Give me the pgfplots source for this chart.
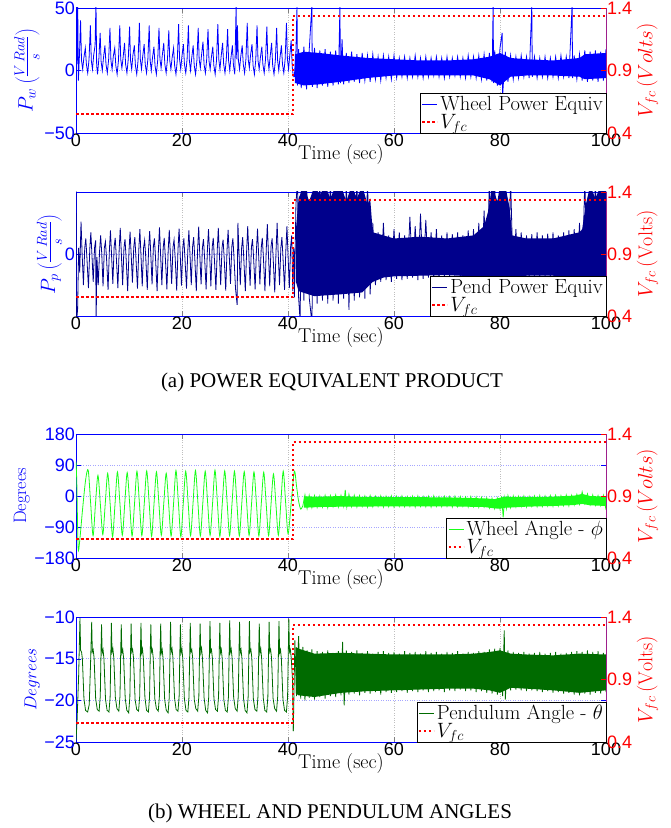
\documentclass[border=0pt]{standalone}
\usepackage{fontspec}
\usepackage{pgfplots}
\pgfplotsset{compat=1.18}
\newfontfamily\helv{Liberation Sans}
\newfontfamily\capfont{Liberation Serif}
\newcommand\tickfont{\helv\fontsize{18}{18}\selectfont}
\newcommand\labfont{\fontsize{20}{22}\selectfont}
\definecolor{dblue}{rgb}{0,0,0.55}
\definecolor{vgreen}{rgb}{0.1,1,0.1}
\definecolor{dgreen}{rgb}{0,0.42,0}
\definecolor{axpurple}{rgb}{0.62,0.12,0.55}

\pgfplotsset{
  base/.style={scale only axis, width=530pt, xmin=0, xmax=100, anchor=south west,
    tick label style={font=\tickfont, inner sep=1pt},
    label style={font=\labfont},
    xtick={0,20,40,60,80,100}, xticklabels={0,20,40,60,80,100},
    tick align=inside, major tick length=5pt},
  leftax/.style={base, xmajorgrids, ymajorgrids,
    x grid style={gray!50, dotted}, y grid style={blue!35, dotted},
    x axis line style={black}, y axis line style={blue},
    ytick style={blue}, yticklabel style={blue}, ylabel style={blue},
    xlabel={Time (sec)}, xlabel style={inner sep=0pt, yshift=4pt}},
  rightax/.style={base, axis y line*=right, axis x line=none,
    ymin=0.4, ymax=1.4, ytick={0.4,0.9,1.4}, yticklabels={0.4,0.9,1.4},
    y axis line style={axpurple}, ytick style={red}, yticklabel style={red},
    ylabel style={red, font=\fontsize{20}{22}\selectfont},
    legend style={at={(1,0)}, anchor=south east, draw=black, fill=white,
      font=\fontsize{20.5}{20}\selectfont, inner sep=1pt, row sep=-2pt, cells={anchor=west}},
    legend image code/.code={\draw[#1] (0pt,0pt) -- (15pt,0pt);}},
  sig/.style={line width=0.8pt},
  vfc/.style={red, line width=2.2pt, dash pattern=on 2.5pt off 2.5pt},
}

\begin{document}
\begin{tikzpicture}
\useasboundingbox (0,0) rectangle (671pt,828pt);

% ---------------- panel 1 : wheel power
\begin{axis}[leftax, at={(76pt,695pt)}, height=125pt, ymin=-50, ymax=50,
  ytick={-50,0,50}, yticklabels={−50,0,50},
  ylabel={$P_w\left(\frac{V\,Rad}{s}\right)$}]
\addplot[blue, sig] coordinates {
(0,-55)(0.1,55)(0.2,5)(0.32,55)(0.45,-8)(0.65,12)
(0.86,40)(1.04,8)(1.26,1)(1.48,10)(1.76,18)(1.96,5)(2.21,-2)(2.46,9)
(2.71,36)(2.89,8)(3.11,1)(3.33,12)(3.6,20)(3.77,55)(3.9,4)(4.06,-3)(4.31,9)
(4.56,30)(4.74,7)(4.96,0)(5.18,10)(5.46,20)(5.66,5)(5.91,-2)(6.16,9)
(6.41,34)(6.59,8)(6.81,1)(7.03,11)(7.31,18)(7.51,4)(7.76,-3)(8.01,8)
(8.26,36)(8.44,9)(8.66,2)(8.88,10)(9.16,22)(9.36,5)(9.61,-2)(9.86,9)
(10.11,35)(10.29,8)(10.51,1)(10.73,12)(11.01,20)(11.21,4)(11.46,-3)(11.71,8)
(11.96,38)(12.14,9)(12.36,1)(12.58,11)(12.86,21)(13.06,5)(13.31,-2)(13.56,9)
(13.81,36)(13.99,8)(14.21,0)(14.43,10)(14.71,19)(14.91,4)(15.16,-3)(15.41,8)
(15.66,34)(15.84,9)(16.06,2)(16.28,12)(16.56,22)(16.76,5)(17.01,-2)(17.26,9)
(17.51,32)(17.69,8)(17.91,1)(18.13,10)(18.41,18)(18.61,4)(18.86,-3)(19.11,8)
(19.36,37)(19.54,9)(19.76,1)(19.98,11)(20.26,21)(20.46,5)(20.71,-2)(20.96,9)
(21.21,36)(21.39,8)(21.61,0)(21.83,10)(22.11,20)(22.31,4)(22.56,-3)(22.81,8)
(23.06,34)(23.24,9)(23.46,2)(23.68,12)(23.96,23)(24.16,5)(24.41,-2)(24.66,9)
(24.91,33)(25.09,8)(25.31,1)(25.53,10)(25.81,19)(26.01,4)(26.26,-3)(26.51,8)
(26.76,37)(26.94,9)(27.16,1)(27.38,11)(27.66,22)(27.86,5)(28.11,-2)(28.36,9)
(28.61,33)(28.79,8)(29.01,0)(29.23,10)(29.51,20)(29.71,4)(29.96,-3)(30.21,52)(30.32,9)
(30.46,36)(30.64,8)(30.86,1)(31.08,11)(31.36,20)(31.56,5)(31.81,-2)(32.06,9)
(32.31,38)(32.49,9)(32.71,2)(32.93,12)(33.21,21)(33.41,4)(33.66,-3)(33.91,8)
(34.16,36)(34.34,8)(34.56,1)(34.78,10)(35.06,19)(35.26,5)(35.51,-2)(35.76,9)
(36.01,35)(36.19,9)(36.41,1)(36.63,11)(36.91,22)(37.11,4)(37.36,-3)(37.61,8)
(37.86,34)(38.04,8)(38.26,0)(38.48,10)(38.76,20)(38.96,5)(39.21,-2)(39.46,9)
(39.71,38)(39.89,9)(40.11,1)(40.33,12)(40.6,24)(40.8,3)(41.0,-5)
};
\addplot[blue, fill=blue, draw=none, forget plot] coordinates {
(41.3,13)(43,15)(46,14)(50,12)(55,10)(60,9)(65,8)(70,8)(75,9)(78,11)(80,14)(82,10)(85,9)(90,8)(95,10)(96,13)(100,14)
(100,-6)(96,-7)(95,-5)(90,-4)(85,-4)(82,-5)(80,-12)(78,-7)(75,-4)(70,-4)(65,-4)(60,-4)(55,-6)(50,-9)(46,-11)(43,-12)(41.3,-10)
} -- cycle;
\addplot[blue, sig, forget plot] coordinates {
(41.0,-5)(41.2,-5)(41.5,16)(41.7,52)(41.8,-12)(42.0,17)(42.5,-14)(43.0,19)(43.5,-15)(44.0,16)(44.5,52)(44.6,-13)
(45.0,18)(45.5,-14)(46.0,16)(46.5,-12)(47.0,17)(47.5,-13)(48.0,15)(48.5,-12)(49.0,16)(49.5,-11)(49.8,52)(49.9,-10)
(50.2,25)(50.5,-11)(51.0,14)(51.5,-10)(52.0,15)(52.5,-9)(53.0,13)(53.5,-10)(54.0,14)(54.5,-8)(55.0,12)(55.5,-9)
(56.0,13)(56.5,-7)(57.0,11)(57.5,-8)(58.0,12)(58.5,-6)(59.0,11)(59.5,-7)(60.0,12)(60.5,-6)(61.0,10)(61.5,-5)
(62.0,11)(62.5,-6)(63.0,10)(63.5,-5)(64.0,12)(64.5,-5)(65.0,10)(65.5,-6)(66.0,11)(66.5,-5)(67.0,10)(67.5,-4)
(68.0,11)(68.5,-5)(69.0,10)(69.5,-6)(70.0,11)(70.5,-5)(71.0,10)(71.5,-4)(72.0,11)(72.5,-5)(73.0,10)(73.5,-6)
(74.0,12)(74.5,-5)(75.0,11)(75.5,-6)(76.0,12)(76.5,-7)(77.0,13)(77.5,-8)(78.0,14)(78.5,-9)(78.7,52)(78.8,-10)
(79.0,16)(79.5,-12)(80.0,18)(80.4,30)(80.5,-20)(81.0,15)(81.5,-9)(82.0,12)(82.5,-7)(83.0,11)(83.5,-6)(84.0,12)
(84.5,-5)(85.0,11)(85.5,-6)(86.0,52)(86.1,-5)(86.5,11)(87.0,-6)(87.5,10)(88.0,-5)(88.5,11)(89.0,-6)(89.5,10)
(90.0,-5)(90.5,11)(91.0,-6)(91.5,12)(92.0,-5)(92.5,11)(93.0,-6)(93.6,52)(93.7,-6)(94.0,12)(94.5,-7)(95.0,13)
(95.5,-8)(96.0,16)(96.5,-9)(97.0,15)(97.5,-8)(98.0,16)(98.5,-9)(99.0,15)(99.5,-8)(100.0,17)
};
\end{axis}
\begin{axis}[rightax, at={(76pt,695pt)}, height=125pt, ylabel={$V_{fc}\,(Volts)$}]
\addlegendimage{blue, line width=0.8pt}
\addlegendentry{Wheel Power Equiv}
\addplot[vfc] coordinates {(0,0.55)(40.9,0.55)(40.9,1.335)(100,1.335)};
\addlegendentry{$V_{fc}$}
\end{axis}

% ---------------- panel 2 : pendulum power
\begin{axis}[leftax, at={(76pt,512pt)}, height=124pt, ymin=-1, ymax=1,
  ytick={0}, yticklabels={0},
  ylabel={$P_p\left(\frac{V\,Rad}{s}\right)$},
  ylabel style={at={(axis description cs:-0.05,0.5)}, anchor=center}]
\addplot[dblue, sig] coordinates {
(0,1.2)(0.08,-1.1)(0.3,-0.9)(0.5,0.1)(0.7,-0.3)
(0.95,0.52)(1.15,0.02)(1.4,-0.5)(1.65,0.1)(1.85,0.25)(2.05,-0.05)(2.35,-0.55)(2.6,0.08)
(2.8,0.35)(3.0,0.0)(3.25,-0.45)(3.5,0.1)(3.7,0.22)(3.8,-1.1)(3.95,-0.05)(4.2,-0.5)(4.45,0.05)
(4.65,0.3)(4.85,0.02)(5.1,-0.52)(5.35,0.1)(5.55,0.2)(5.75,-0.05)(6.05,-0.58)(6.3,0.06)
(6.5,0.38)(6.7,0.0)(6.95,-0.48)(7.2,0.12)(7.4,0.26)(7.6,-0.04)(7.9,-0.55)(8.15,0.08)
(8.35,0.42)(8.55,0.02)(8.8,-0.5)(9.05,0.1)(9.25,0.24)(9.45,-0.06)(9.75,-0.6)(10.0,0.05)
(10.2,0.36)(10.4,0.01)(10.65,-0.46)(10.9,0.11)(11.1,0.27)(11.3,-0.05)(11.6,-0.56)(11.85,0.07)
(12.05,0.4)(12.25,0.0)(12.5,-0.52)(12.75,0.1)(12.95,0.22)(13.15,-0.04)(13.45,-0.58)(13.7,0.08)
(13.9,0.37)(14.1,0.02)(14.35,-0.49)(14.6,0.12)(14.8,0.25)(15.0,-0.06)(15.3,-0.6)(15.55,0.06)
(15.75,0.43)(15.95,0.01)(16.2,-0.5)(16.45,0.1)(16.65,0.26)(16.85,-0.05)(17.15,-0.57)(17.4,0.07)
(17.6,0.39)(17.8,0.0)(18.05,-0.48)(18.3,0.11)(18.5,0.23)(18.7,-0.04)(19.0,-0.59)(19.25,0.08)
(19.45,0.41)(19.65,0.02)(19.9,-0.51)(20.15,0.1)(20.35,0.25)(20.55,-0.06)(20.85,-0.56)(21.1,0.06)
(21.3,0.38)(21.5,0.01)(21.75,-0.5)(22.0,0.12)(22.2,0.27)(22.4,-0.05)(22.7,-0.6)(22.95,0.07)
(23.15,0.44)(23.35,0.0)(23.6,-0.49)(23.85,0.1)(24.05,0.24)(24.25,-0.04)(24.55,-0.57)(24.8,0.08)
(25.0,0.4)(25.2,0.02)(25.45,-0.52)(25.7,0.11)(25.9,0.26)(26.1,-0.06)(26.4,-0.58)(26.65,0.06)
(26.85,0.42)(27.05,0.01)(27.3,-0.5)(27.55,0.1)(27.75,0.23)(27.95,-0.05)(28.25,-0.59)(28.5,0.07)
(28.7,0.39)(28.9,0.0)(29.15,-0.48)(29.4,0.12)(29.6,0.25)(29.8,-0.04)(30.1,-0.56)(30.4,-0.82)(30.5,0.08)
(30.55,0.5)(30.75,0.02)(31.0,-0.5)(31.25,0.1)(31.45,0.27)(31.65,-0.06)(31.95,-0.6)(32.2,0.06)
(32.4,0.45)(32.6,0.01)(32.85,-0.51)(33.1,0.11)(33.3,0.24)(33.5,-0.05)(33.8,-0.57)(34.05,0.07)
(34.25,0.41)(34.45,0.0)(34.7,-0.49)(34.95,0.1)(35.15,0.26)(35.35,-0.04)(35.65,-0.6)(35.9,0.08)
(36.1,0.48)(36.3,0.02)(36.55,-0.52)(36.8,0.12)(37.0,0.25)(37.2,-0.06)(37.5,-0.62)(37.75,0.06)
(37.95,0.5)(38.15,0.01)(38.4,-0.5)(38.65,0.1)(38.85,0.27)(39.05,-0.05)(39.35,-0.58)(39.6,0.07)
(39.8,0.45)(40.0,0.0)(40.25,-0.55)(40.5,0.12)(40.7,0.3)(40.9,-0.6)(41.1,0.1)
};
\addplot[dblue, fill=dblue, draw=none, forget plot] coordinates {
(41.5,0.4)(42,0.9)(43,1.1)(44,0.85)(45,1.1)(46,0.95)(47,1.1)(48,0.9)(49,1.1)(50,1.1)(51,0.85)(52,1.1)(53,0.9)(54,1.1)(55,0.8)(55.5,0.9)
(56,0.35)(60,0.25)(65,0.28)(70,0.25)(75,0.3)(77,0.45)(77.8,0.7)(78.5,1.1)(79.5,0.85)(80,1.1)(81,1.1)(81.8,0.75)(82.3,0.3)
(85,0.25)(90,0.25)(95,0.35)(95.5,0.4)(96.2,0.8)(97,1.1)(98,0.9)(99,1.1)(100,1.1)
(100,-0.55)(96,-0.5)(95,-0.42)(90,-0.35)(85,-0.35)(82,-0.42)(80,-0.5)(78,-0.48)(75,-0.36)(70,-0.34)(65,-0.35)(60,-0.36)(58,-0.38)(56,-0.45)(54,-0.62)(50,-0.65)(45,-0.68)(42,-0.6)(41.5,-0.45)
} -- cycle;
\addplot[dblue, sig, forget plot] coordinates {
(41.1,0.1)(41.2,-0.7)(41.5,0.8)(41.8,1.2)(42.0,-0.7)(42.3,-1.1)(42.5,1.2)(43,-0.75)(43.5,1.2)(44,-0.7)(44.5,-1.1)
(45,1.2)(45.5,-0.8)(46,1.2)(46.5,-0.75)(47,1.2)(47.5,-0.8)(48,1.2)(48.5,-0.75)(49,1.2)(49.5,-0.8)(50,1.2)(50.5,-0.72)
(51,1.2)(51.5,-0.9)(52,1.2)(52.5,-0.75)(53,1.2)(53.5,-0.7)(54,1.2)(54.5,-0.72)(55,1.2)(55.5,-0.65)(56,0.5)(56.5,-0.5)
(57,0.35)(57.5,-0.45)(58,0.5)(58.5,-0.42)(59,0.3)(59.5,-0.45)(60,0.4)(60.5,-0.4)(61,0.35)(61.5,-0.42)(62,0.3)(62.5,-0.4)
(63,0.6)(63.5,-0.38)(64,0.45)(64.5,-0.42)(65,0.65)(65.5,-0.4)(66,0.55)(66.5,-0.38)(67,0.35)(67.5,-0.4)(68,0.4)(68.5,-0.42)
(69,0.3)(69.5,-0.38)(70,0.35)(70.5,-0.4)(71,0.32)(71.5,-0.38)(72,0.35)(72.5,-0.42)(73,0.3)(73.5,-0.4)(74,0.38)(74.5,-0.4)
(75,0.4)(75.5,-0.45)(76,0.5)(76.5,-0.48)(77,0.7)(77.5,-0.5)(78,1.2)(78.5,-0.55)(79,1.2)(79.5,-0.6)(80,1.2)(80.5,-0.55)
(81,1.2)(81.5,-0.5)(82,1.2)(82.5,-0.45)(83,0.4)(83.5,-0.4)(84,0.35)(84.5,-0.38)(85,0.3)(85.5,-0.4)(86,0.32)(86.5,-0.38)
(87,0.35)(87.5,-0.4)(88,0.3)(88.5,-0.38)(89,0.33)(89.5,-0.4)(90,0.35)(90.5,-0.42)(91,0.3)(91.5,-0.4)(92,0.35)(92.5,-0.42)
(93,0.38)(93.5,-0.4)(94,0.4)(94.5,-0.45)(95,0.5)(95.5,-0.5)(96,1.2)(96.5,-0.6)(97,1.2)(97.5,-0.62)(98,1.2)(98.5,-0.6)
(99,1.2)(99.5,-0.65)(100,1.2)
};
\end{axis}
\begin{axis}[rightax, at={(76pt,512pt)}, height=124pt, ylabel={$V_{fc}\,(\mathrm{Volts})$}]
\addlegendimage{dblue, line width=0.8pt}
\addlegendentry{Pend Power Equiv}
\addplot[vfc] coordinates {(0,0.55)(40.9,0.55)(40.9,1.335)(100,1.335)};
\addlegendentry{$V_{fc}$}
\end{axis}

% ---------------- panel 3 : wheel angle
\begin{axis}[leftax, at={(76pt,270pt)}, height=124pt, ymin=-180, ymax=180,
  ytick={-180,-90,0,90,180}, yticklabels={−180,−90,0,90,180},
  ylabel={Degrees}, ylabel style={font=\fontsize{18}{20}\selectfont}]
\addplot[vgreen, sig, smooth] coordinates {
(0,100)(0.15,40)(0.4,-150)(0.7,-130)(1.2,-45)(1.8,45)
(2.30,75)(2.76,-20)(3.22,-115)(3.68,-22)(4.14,60)(4.60,-25)(5.06,-112)(5.52,-22)
(5.98,66)(6.44,-22)(6.90,-118)(7.36,-24)(7.82,70)(8.28,-20)(8.74,-114)(9.20,-22)
(9.66,68)(10.12,-21)(10.58,-116)(11.04,-23)(11.50,72)(11.96,-20)(12.42,-115)(12.88,-22)
(13.34,73)(13.80,-19)(14.26,-117)(14.72,-23)(15.18,70)(15.64,-21)(16.10,-114)(16.56,-22)
(17.02,66)(17.48,-23)(17.94,-116)(18.40,-24)(18.86,74)(19.32,-19)(19.78,-118)(20.24,-22)
(20.70,72)(21.16,-20)(21.62,-115)(22.08,-21)(22.54,74)(23.00,-19)(23.46,-116)(23.92,-22)
(24.38,72)(24.84,-20)(25.30,-114)(25.76,-23)(26.22,75)(26.68,-19)(27.14,-117)(27.60,-22)
(28.06,73)(28.52,-20)(28.98,-115)(29.44,-21)(29.90,72)(30.36,-21)(30.82,-116)(31.28,-22)
(31.74,71)(32.20,-20)(32.66,-114)(33.12,-23)(33.58,70)(34.04,-21)(34.50,-116)(34.96,-22)
(35.42,69)(35.88,-22)(36.34,-115)(36.80,-23)(37.26,64)(37.72,-24)(38.18,-114)(38.64,-22)
(39.10,72)(39.56,-21)(40.02,-110)(40.6,-20)(41.2,72)(41.6,30)(42.0,-15)(42.4,-38)(42.8,-28)
};
\addplot[vgreen, fill=vgreen, draw=none, forget plot] coordinates {
(43,-1)(46,-2)(50,0)(52,-2)(60,-3)(70,-4)(77,-7)(79,-9)(80,-5)(81,-2)(85,-3)(90,-2)(94,1)(95.5,6)(97,0)(100,-2)
(100,-29)(97,-27)(95.5,-23)(94,-26)(90,-29)(85,-31)(81,-34)(80,-37)(79,-36)(77,-32)(70,-30)(60,-30)(52,-31)(50,-31)(46,-32)(43,-34)
} -- cycle;
\addplot[vgreen, sig, forget plot] coordinates {
(42.8,-28)(43.2,3)(43.6,-36)(44.0,2)(44.5,-34)(45.0,1)(45.5,-33)(46.0,0)(46.5,-32)(47.0,2)(47.5,-34)(48.0,1)
(48.5,-31)(49.0,3)(49.5,-32)(50.0,2)(50.5,-30)(50.8,18)(51.1,-32)(51.5,5)(52.0,-31)(52.5,2)(53.0,-32)(53.5,1)
(54.0,-30)(54.5,0)(55.0,-32)(55.5,1)(56.0,-31)(56.5,-1)(57.0,-30)(57.5,0)(58.0,-32)(58.5,-1)(59.0,-31)(59.5,0)
(60.0,-32)(60.5,-1)(61.0,-30)(61.5,0)(62.0,-31)(62.5,-2)(63.0,-30)(63.5,-1)(64.0,-32)(64.5,0)(65.0,-30)(65.5,-2)
(66.0,-31)(66.5,-1)(67.0,-32)(67.5,0)(68.0,-30)(68.5,-2)(69.0,-31)(69.5,-1)(70.0,-30)(70.5,-2)(71.0,-32)(71.5,-1)
(72.0,-31)(72.5,-2)(73.0,-30)(73.5,-3)(74.0,-32)(74.5,-2)(75.0,-31)(75.5,-3)(76.0,-33)(76.5,-4)(77.0,-32)(77.5,-5)
(78.0,-35)(78.5,-7)(79.0,-37)(79.5,-6)(80.0,-38)(80.3,-1)(80.6,-62)(80.9,-5)(81.2,-36)(81.5,1)(82.0,-34)(82.5,0)
(83.0,-32)(83.5,-1)(84.0,-31)(84.5,0)(85.0,-32)(85.5,-1)(86.0,-30)(86.5,0)(87.0,-31)(87.5,1)(88.0,-30)(88.5,0)
(89.0,-29)(89.5,1)(90.0,-30)(90.5,2)(91.0,-29)(91.5,1)(92.0,-28)(92.5,3)(93.0,-29)(93.5,2)(94.0,-26)(94.5,5)
(95.0,-24)(95.5,12)(96.0,-22)(96.5,6)(97.0,-26)(97.5,3)(98.0,-27)(98.5,1)(99.0,-28)(99.5,2)(100.0,-40)
};
\end{axis}
\begin{axis}[rightax, at={(76pt,270pt)}, height=124pt, ylabel={$V_{fc}\,(Volts)$}]
\addlegendimage{vgreen, line width=0.8pt}
\addlegendentry{Wheel Angle - $\phi$}
\addplot[vfc] coordinates {(0,0.55)(40.9,0.55)(40.9,1.335)(100,1.335)};
\addlegendentry{$V_{fc}$}
\end{axis}

% ---------------- panel 4 : pendulum angle
\begin{axis}[leftax, at={(76pt,86pt)}, height=125pt, ymin=-25, ymax=-10,
  ytick={-25,-20,-15,-10}, yticklabels={−25,−20,−15,−10},
  ylabel={$Degrees$}, ylabel style={font=\fontsize{18}{20}\selectfont}]
\addplot[dgreen, sig] coordinates {
(0,-24.8)(0.2,-22.5)(0.5,-17)(0.75,-10.1)(0.87,-14.0)(1.05,-14.2)(1.2,-15)(1.5,-19.8)(1.8,-21.2)(2.2,-21.4)(2.5,-20.5)(2.75,-15.5)
(2.96,-10.6)(3.08,-14.2)(3.24,-13.9)(3.41,-14.9)(3.71,-19.8)(4.01,-21.1)(4.36,-21.3)(4.58,-19.5)(4.72,-14.0)
(4.82,-10.9)(4.94,-14.3)(5.10,-13.9)(5.27,-15.0)(5.57,-19.9)(5.87,-21.2)(6.22,-21.4)(6.44,-19.6)(6.58,-14.1)
(6.68,-10.7)(6.80,-14.2)(6.96,-13.8)(7.13,-14.9)(7.43,-19.7)(7.73,-21.0)(8.08,-21.3)(8.30,-19.5)(8.44,-14.0)
(8.54,-10.9)(8.66,-14.3)(8.82,-13.9)(8.99,-15.0)(9.29,-19.8)(9.59,-21.2)(9.94,-21.5)(10.16,-19.6)(10.30,-14.1)
(10.40,-10.8)(10.52,-14.2)(10.68,-13.9)(10.85,-14.9)(11.15,-19.9)(11.45,-21.1)(11.80,-21.3)(12.02,-19.5)(12.16,-14.0)
(12.26,-10.7)(12.38,-14.3)(12.54,-13.8)(12.71,-15.0)(13.01,-19.7)(13.31,-21.2)(13.66,-21.4)(13.88,-19.6)(14.02,-14.1)
(14.12,-10.9)(14.24,-14.2)(14.40,-13.9)(14.57,-14.9)(14.87,-19.8)(15.17,-21.0)(15.52,-21.3)(15.74,-19.5)(15.88,-14.0)
(15.98,-10.8)(16.10,-14.3)(16.26,-13.9)(16.43,-15.0)(16.73,-19.9)(17.03,-21.2)(17.38,-21.5)(17.60,-19.6)(17.74,-14.1)
(17.84,-10.6)(17.96,-14.2)(18.12,-13.8)(18.29,-14.9)(18.59,-19.7)(18.89,-21.1)(19.24,-21.3)(19.46,-19.5)(19.60,-14.0)
(19.70,-10.9)(19.82,-14.3)(19.98,-13.9)(20.15,-15.0)(20.45,-19.8)(20.75,-21.2)(21.10,-21.4)(21.32,-19.6)(21.46,-14.1)
(21.56,-10.7)(21.68,-14.2)(21.84,-13.9)(22.01,-14.9)(22.31,-19.9)(22.61,-21.0)(22.96,-21.3)(23.18,-19.5)(23.32,-14.0)
(23.42,-10.8)(23.54,-14.3)(23.70,-13.8)(23.87,-15.0)(24.17,-19.7)(24.47,-21.2)(24.82,-21.5)(25.04,-19.6)(25.18,-14.1)
(25.28,-10.5)(25.40,-14.2)(25.56,-13.9)(25.73,-14.9)(26.03,-19.8)(26.33,-21.1)(26.68,-21.3)(26.90,-19.5)(27.04,-14.0)
(27.14,-10.7)(27.26,-14.3)(27.42,-13.9)(27.59,-15.0)(27.89,-19.9)(28.19,-21.2)(28.54,-21.4)(28.76,-19.6)(28.90,-14.1)
(29.00,-10.4)(29.12,-14.2)(29.28,-13.8)(29.45,-14.9)(29.75,-19.7)(30.05,-21.0)(30.40,-21.3)(30.62,-19.5)(30.76,-14.0)
(30.86,-10.6)(30.98,-14.3)(31.14,-13.9)(31.31,-15.0)(31.61,-19.8)(31.91,-21.2)(32.26,-21.5)(32.48,-19.6)(32.62,-14.1)
(32.72,-10.5)(32.84,-14.2)(33.00,-13.9)(33.17,-14.9)(33.47,-19.9)(33.77,-21.1)(34.12,-21.3)(34.34,-19.5)(34.48,-14.0)
(34.58,-10.8)(34.70,-14.3)(34.86,-13.8)(35.03,-15.0)(35.33,-19.7)(35.63,-21.2)(35.98,-21.4)(36.20,-19.6)(36.34,-14.1)
(36.44,-10.6)(36.56,-14.2)(36.72,-13.9)(36.89,-14.9)(37.19,-19.8)(37.49,-21.0)(37.84,-21.3)(38.06,-19.5)(38.20,-14.0)
(38.30,-10.5)(38.42,-14.3)(38.58,-13.9)(38.75,-15.0)(39.05,-19.9)(39.35,-21.2)(39.70,-21.4)(39.92,-19.6)(40.06,-14.1)
(40.16,-10.3)(40.28,-14.2)(40.44,-13.9)(40.61,-14.9)(40.85,-17.5)(41.0,-23.7)
};
\addplot[dgreen, fill=dgreen, draw=none, forget plot] coordinates {
(41.5,-13.6)(42,-13.8)(45,-14.4)(50,-14.3)(55,-14.4)(60,-14.5)(65,-14.5)(70,-14.5)(75,-14.4)(78,-14.2)(80,-14.0)(82,-14.4)(85,-14.5)(90,-14.6)(95,-14.4)(100,-14.5)
(100,-18.8)(95,-19.1)(90,-18.8)(85,-18.6)(82,-18.5)(80,-19.1)(78,-18.8)(75,-18.6)(70,-18.6)(65,-18.7)(60,-18.8)(55,-18.9)(50,-19.1)(45,-19.6)(42,-19.4)(41.5,-19.2)
} -- cycle;
\addplot[dgreen, sig, forget plot] coordinates {
(41.0,-23.7)(41.3,-12.8)(41.6,-19.5)(42.0,-12.3)(42.4,-19.8)(42.8,-13.6)(43.2,-20.0)(43.6,-14.0)(44.0,-19.7)(44.5,-13.9)
(45.0,-19.9)(45.5,-14.1)(46.0,-19.6)(46.5,-14.2)(47.0,-19.8)(47.5,-14.0)(48.0,-19.5)(48.5,-14.3)(49.0,-19.6)(49.5,-14.1)
(50.0,-19.4)(50.3,-13.0)(50.6,-20.6)(51.0,-14.0)(51.5,-19.3)(52.0,-14.2)(52.5,-19.2)(53.0,-14.0)(53.5,-19.4)(54.0,-14.3)
(54.5,-19.1)(55.0,-14.1)(55.5,-19.2)(56.0,-14.4)(56.5,-19.0)(57.0,-14.2)(57.5,-19.3)(58.0,-14.1)(58.5,-19.0)(59.0,-14.3)
(59.5,-19.1)(60.0,-14.2)(60.5,-19.0)(61.0,-14.4)(61.5,-18.9)(62.0,-14.1)(62.5,-19.1)(63.0,-14.3)(63.5,-18.9)(64.0,-14.2)
(64.5,-19.0)(65.0,-14.4)(65.5,-18.8)(66.0,-14.1)(66.5,-19.0)(67.0,-14.3)(67.5,-18.9)(68.0,-14.2)(68.5,-18.8)(69.0,-14.4)
(69.5,-19.0)(70.0,-14.2)(70.5,-18.8)(71.0,-14.3)(71.5,-18.9)(72.0,-14.1)(72.5,-18.7)(73.0,-14.4)(73.5,-18.9)(74.0,-14.2)
(74.5,-18.8)(75.0,-14.3)(75.5,-19.0)(76.0,-14.1)(76.5,-18.9)(77.0,-14.2)(77.5,-19.1)(78.0,-13.9)(78.5,-19.2)(79.0,-13.8)
(79.5,-19.3)(80.0,-13.7)(80.5,-19.5)(80.8,-11.6)(81.0,-19.9)(81.5,-14.0)(82.0,-18.8)(82.5,-14.2)(83.0,-18.7)(83.5,-14.3)
(84.0,-18.8)(84.5,-14.2)(85.0,-18.9)(85.5,-14.4)(86.0,-18.8)(86.5,-14.3)(87.0,-18.9)(87.5,-14.2)(88.0,-19.0)(88.5,-14.4)
(89.0,-18.9)(89.5,-14.3)(90.0,-19.1)(90.5,-14.2)(91.0,-19.0)(91.5,-14.4)(92.0,-19.2)(92.5,-14.3)(93.0,-19.1)(93.5,-14.2)
(94.0,-19.3)(94.5,-14.1)(95.0,-19.4)(95.5,-14.2)(96.0,-19.2)(96.5,-14.0)(97.0,-19.3)(97.5,-14.2)(98.0,-19.1)(98.5,-14.1)
(99.0,-19.2)(99.5,-14.3)(100.0,-19.0)
};
\end{axis}
\begin{axis}[rightax, at={(76pt,86pt)}, height=125pt, ylabel={$V_{fc}\,(\mathrm{Volts})$}]
\addlegendimage{dgreen, line width=0.8pt}
\addlegendentry{Pendulum Angle - $\theta$}
\addplot[vfc] coordinates {(0,0.55)(40.9,0.55)(40.9,1.335)(100,1.335)};
\addlegendentry{$V_{fc}$}
\end{axis}

\node[font=\capfont\fontsize{21}{24}\selectfont] at (332pt,446pt) {(a) POWER EQUIVALENT PRODUCT};
\node[font=\capfont\fontsize{21}{24}\selectfont] at (330pt,15pt) {(b) WHEEL AND PENDULUM ANGLES};
\end{tikzpicture}
\end{document}
